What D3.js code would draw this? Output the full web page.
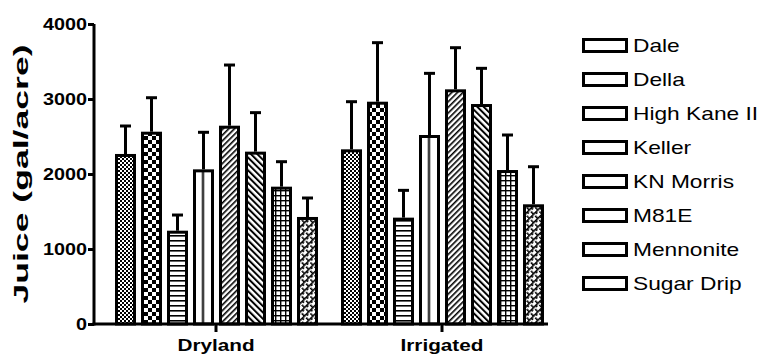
<!DOCTYPE html>
<html><head><meta charset="utf-8">
<script src="https://cdn.jsdelivr.net/npm/d3@7"></script>
<style>
body{margin:0;background:#fff;}
svg{display:block;font-family:"Liberation Sans",Arial,sans-serif;}
</style></head>
<body><svg id="c" width="772" height="356"></svg>
<script>
const groups = ["Dryland", "Irrigated"];
const series = ["Dale", "Della", "High Kane II", "Keller", "KN Morris", "M81E", "Mennonite", "Sugar Drip"];
const dryland = [2267, 2564, 1244, 2062, 2644, 2298, 1831, 1427];
const dryErr = [373, 453, 209, 494, 809, 520, 333, 253];
const irrigated = [2329, 2964, 1418, 2520, 3129, 2933, 2053, 1596];
const irrErr = [635, 787, 364, 822, 555, 476, 467, 501];
const yTicks = [0, 1000, 2000, 3000, 4000];

const values = [dryland, irrigated];
const errs = [dryErr, irrErr];

const svg = d3.select("#c");
const defs = svg.append("defs");

function pat(id, w, h, tf) {
  const p = defs.append("pattern").attr("id", id).attr("patternUnits", "userSpaceOnUse")
    .attr("width", w).attr("height", h);
  if (tf) p.attr("patternTransform", tf);
  p.append("rect").attr("width", w).attr("height", h).attr("fill", "#fff");
  return p;
}
// Dale: fine checker
let p = pat("p0", 4, 4);
p.append("rect").attr("x", 0).attr("y", 0).attr("width", 2).attr("height", 2).attr("fill", "#000");
p.append("rect").attr("x", 2).attr("y", 2).attr("width", 2).attr("height", 2).attr("fill", "#000");
// Della: coarse checker
p = pat("p1", 8, 8);
p.append("rect").attr("x", 0).attr("y", 0).attr("width", 4).attr("height", 4).attr("fill", "#000");
p.append("rect").attr("x", 4).attr("y", 4).attr("width", 4).attr("height", 4).attr("fill", "#000");
// High Kane II: horizontal lines
p = pat("p2", 5, 5);
p.append("rect").attr("x", 0).attr("y", 0).attr("width", 5).attr("height", 1.6).attr("fill", "#000");
// Keller: single vertical line, per bar
p = defs.append("pattern").attr("id", "p3").attr("patternUnits", "objectBoundingBox")
  .attr("width", 1).attr("height", 1);
p.append("rect").attr("width", 40).attr("height", 400).attr("fill", "#fff");
p.append("rect").attr("x", 7.5).attr("y", 0).attr("width", 2).attr("height", 400).attr("fill", "#000");
// KN Morris: ///
p = pat("p4", 4, 4, "rotate(45)");
p.append("rect").attr("x", 0).attr("y", 0).attr("width", 1.6).attr("height", 4).attr("fill", "#000");
// M81E: \\\
p = pat("p5", 4.5, 4.5, "rotate(-45)");
p.append("rect").attr("x", 0).attr("y", 0).attr("width", 2).attr("height", 4.5).attr("fill", "#000");
// Mennonite: grid
p = pat("p6", 5, 5);
p.append("rect").attr("x", 0).attr("y", 0).attr("width", 5).attr("height", 1.4).attr("fill", "#000");
p.append("rect").attr("x", 0).attr("y", 0).attr("width", 1.4).attr("height", 5).attr("fill", "#000");
// Sugar Drip: diagonal brick
p = pat("p7", 6, 6, "rotate(-45)");
p.append("rect").attr("x", 0).attr("y", 0).attr("width", 6).attr("height", 1.6).attr("fill", "#000");
p.append("rect").attr("x", 0).attr("y", 0).attr("width", 1.6).attr("height", 3).attr("fill", "#000");
p.append("rect").attr("x", 3).attr("y", 3).attr("width", 1.6).attr("height", 3).attr("fill", "#000");

const y = d3.scaleLinear().domain([0, 4000]).range([324, 24]);
const x0 = d3.scaleBand().domain(groups).range([103, 555]);
const x1 = d3.scaleBand().domain(series).range([9.5, 217.5]).paddingInner(5 / 26).paddingOuter(5 / 52);

const data = [];
groups.forEach((g, gi) => series.forEach((s, si) => {
  data.push({ g, s, si, v: values[gi][si], e: errs[gi][si] });
}));

const SW = 3;
// error bars
const eb = svg.append("g").attr("stroke", "#000").attr("stroke-width", SW);
data.forEach(d => {
  const cx = x0(d.g) + x1(d.s) + x1.bandwidth() / 2;
  eb.append("line").attr("x1", cx).attr("x2", cx).attr("y1", y(d.v)).attr("y2", y(d.v + d.e));
  eb.append("line").attr("x1", cx - 5.5).attr("x2", cx + 5.5).attr("y1", y(d.v + d.e)).attr("y2", y(d.v + d.e));
});

// bars
svg.append("g").selectAll("rect").data(data).join("rect")
  .attr("x", d => x0(d.g) + x1(d.s) + SW / 2)
  .attr("width", x1.bandwidth() - SW)
  .attr("y", d => y(d.v) + SW / 2)
  .attr("height", d => y(0) - y(d.v) - SW / 2)
  .attr("fill", d => `url(#p${d.si})`)
  .attr("stroke", "#000").attr("stroke-width", SW);

// y axis
const ya = svg.append("g").attr("transform", "translate(94,0)")
  .call(d3.axisLeft(y).tickValues(yTicks).tickSize(6).tickSizeOuter(0).tickFormat(d3.format("d")));
ya.select(".domain").attr("stroke-width", SW).attr("d", `M0,${y(4000)}V${y(0) + 1.5}`);
ya.selectAll(".tick line").attr("stroke-width", SW);
ya.selectAll(".tick text").attr("x", 0).attr("dy", "0.36em")
  .attr("transform", "translate(-7,0) scale(1.2,1)")
  .attr("font-size", 16.5).attr("font-weight", "bold").attr("font-family", "Liberation Sans, Arial, sans-serif")
  .attr("fill", "#000");

// x axis
svg.append("line").attr("x1", 92.5).attr("x2", 548).attr("y1", y(0)).attr("y2", y(0))
  .attr("stroke", "#000").attr("stroke-width", SW);
const xa = svg.append("g").attr("transform", `translate(0,${y(0)})`)
  .call(d3.axisBottom(x0).tickSize(8).tickSizeOuter(0));
xa.select(".domain").remove();
xa.selectAll(".tick line").attr("stroke-width", SW);
xa.selectAll(".tick text").attr("y", 0).attr("dy", 0)
  .attr("transform", "translate(0,27) scale(1.22,1)")
  .attr("font-size", 17).attr("font-weight", "bold").attr("font-family", "Liberation Sans, Arial, sans-serif")
  .attr("fill", "#000");

// y title
svg.append("text").attr("transform", `translate(28,${(y(0) + y(4000)) / 2}) rotate(-90) scale(1.78,1)`)
  .attr("text-anchor", "middle").attr("font-size", 20).attr("font-weight", "bold").attr("fill", "#000")
  .text("Juice (gal/acre)");

// legend
const ly = d3.scaleLinear().domain([0, series.length - 1]).range([45.5, 283.5]);
const lg = svg.append("g").selectAll("g").data(series).join("g")
  .attr("transform", (d, i) => `translate(582,${ly(i)})`);
lg.append("rect").attr("x", 1.5).attr("y", -6).attr("width", 43).attr("height", 12)
  .attr("fill", "#fff").attr("stroke", "#000").attr("stroke-width", SW);
lg.append("text").attr("transform", "translate(51,6.5) scale(1.3,1)")
  .attr("font-size", 17.5).attr("fill", "#000").text(d => d);
</script></body></html>
